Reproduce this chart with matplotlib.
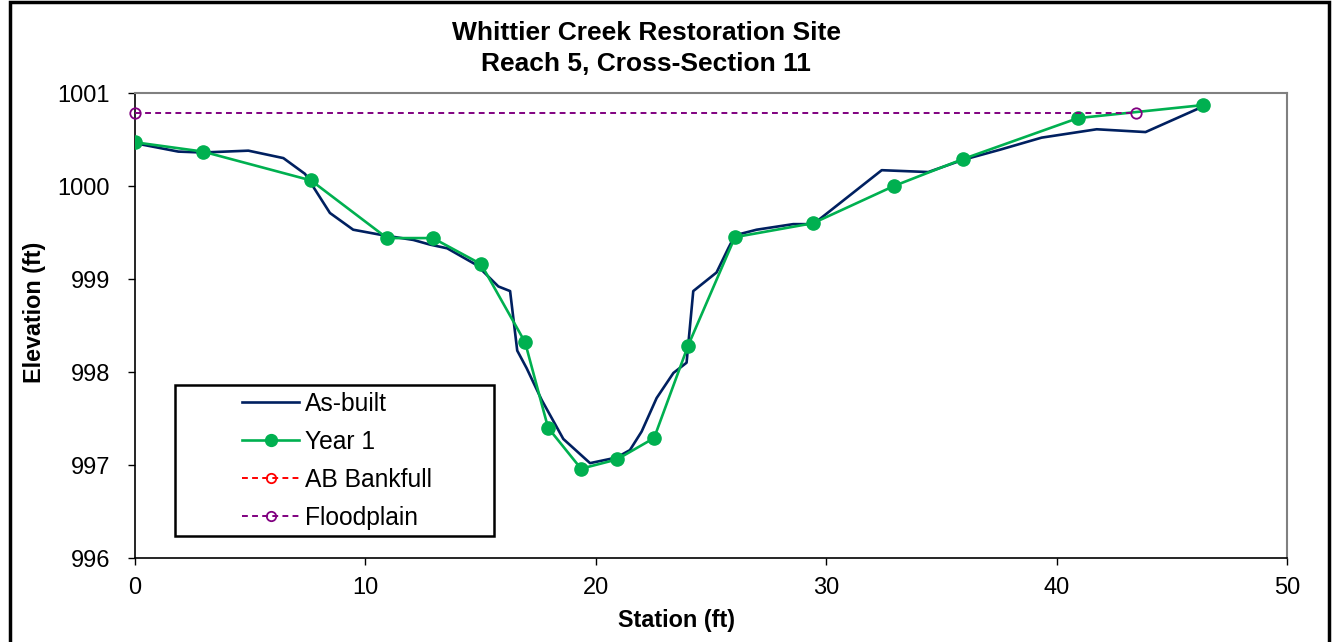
import numpy as np
import matplotlib
matplotlib.use("Agg")
import matplotlib.pyplot as plt
from matplotlib.patches import Rectangle

plt.rcParams['font.family'] = ['Liberation Sans', 'DejaVu Sans']

# as-built survey
ab_station = [0.0, 1.88, 2.93, 4.92, 6.44, 7.38, 8.46, 9.47, 10.78, 12.08, 12.8, 13.55,
              14.83, 15.77, 16.28, 16.59, 17.0, 17.65, 18.59, 19.75, 20.9, 21.48, 21.99,
              22.64, 23.37, 23.94, 24.23, 25.24, 25.75, 26.04, 26.98, 28.57, 29.44,
              32.41, 34.43, 35.92, 37.54, 39.35, 41.74, 43.86, 46.22]
ab_elev = [1000.46, 1000.37, 1000.36, 1000.38, 1000.30, 1000.13, 999.71, 999.53, 999.47,
           999.42, 999.37, 999.33, 999.15, 998.92, 998.87, 998.23, 998.04, 997.70, 997.28,
           997.02, 997.08, 997.16, 997.36, 997.72, 997.99, 998.10, 998.87, 999.07, 999.33,
           999.47, 999.53, 999.59, 999.59, 1000.17, 1000.15, 1000.28, 1000.39, 1000.52,
           1000.61, 1000.58, 1000.84]

# year 1 survey
y1_station = [0.0, 2.95, 7.64, 10.94, 12.93, 15.02, 16.93, 17.93, 19.36, 20.92, 22.53,
              24.0, 26.04, 29.43, 32.94, 35.94, 40.93, 46.35]
y1_elev = [1000.47, 1000.37, 1000.06, 999.44, 999.44, 999.16, 998.32, 997.40, 996.96,
           997.06, 997.29, 998.28, 999.45, 999.60, 1000.00, 1000.29, 1000.73, 1000.87]

# bankfull (not shown on this section) and floodplain
bkf_station = []
bkf_elev = []
fp_station = [0.0, 43.45]
fp_elev = [1000.79, 1000.79]

fig = plt.figure(figsize=(13.36, 6.42), dpi=100)
ax = fig.add_axes([135/1336, 1-558/642, 1152/1336, 465/642])

ax.plot(ab_station, ab_elev, color='#002060', lw=1.9, label='As-built', zorder=3)
ax.plot(y1_station, y1_elev, color='#00B050', lw=1.9, marker='o', ms=9.5,
        label='Year 1', zorder=4)
ax.plot(bkf_station, bkf_elev, color='#FF0000', lw=1.4, ls=(0, (3, 2.2)), marker='o',
        ms=7.5, mfc='none', mew=1.3, label='AB Bankfull')
ax.plot(fp_station, fp_elev, color='#800080', lw=1.4, ls=(0, (3, 2.2)), marker='o',
        ms=7.5, mfc='none', mew=1.3, label='Floodplain', zorder=5, clip_on=False)

ax.set_xlim(0, 50)
ax.set_ylim(996, 1001)
ax.set_xticks(np.arange(0, 51, 10))
ax.set_yticks(np.arange(996, 1002, 1))
ax.tick_params(axis='both', labelsize=17, direction='out', length=5, width=1, colors='black')
ax.tick_params(axis='y', pad=13)
ax.tick_params(axis='x', pad=9)
for s in ['top', 'right']:
    ax.spines[s].set_color('#808080')
    ax.spines[s].set_linewidth(1.5)
for s in ['left', 'bottom']:
    ax.spines[s].set_color('black')
    ax.spines[s].set_linewidth(1.2)

# legend without its own frame; Excel-style box drawn separately
leg = ax.legend(loc='upper left', bbox_to_anchor=((242-135)/1152, (558-392)/465),
                fontsize=17.7, frameon=False, handlelength=2.32, handletextpad=0.25,
                labelspacing=0.57, borderpad=0, borderaxespad=0, markerscale=0.9)
ax.add_patch(Rectangle(((175-135)/1152, (558-536)/465), (494-175)/1152, (536-385)/465,
                       transform=ax.transAxes, fill=False, edgecolor='black', lw=1.8,
                       zorder=6))

fig.text(646/1336, 1-48.5/642, 'Whittier Creek Restoration Site\nReach 5, Cross-Section 11',
         ha='center', va='center', fontsize=19, fontweight='bold', linespacing=1.38)
fig.text(35/1336, 1-312/642, 'Elevation (ft)', rotation=90, ha='center', va='center',
         fontsize=16.8, fontweight='bold')
fig.text(677/1336, 1-620/642, 'Station (ft)', ha='center', va='center',
         fontsize=16.9, fontweight='bold')

fig.patches.append(Rectangle((10/1336, -0.05), 1319/1336, 1.05-2/642, transform=fig.transFigure,
                             fill=False, edgecolor='black', lw=2.5))

fig.savefig('out.png', dpi=100)
